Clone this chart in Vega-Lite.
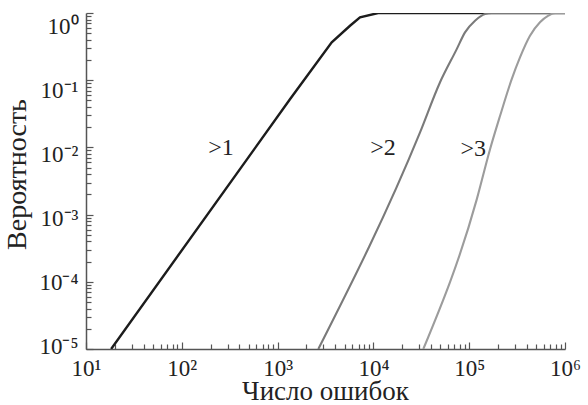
{
  "$schema": "https://vega.github.io/schema/vega-lite/v6.json",
  "autosize": {"type": "none"},
  "padding": {"left": 86, "top": 13, "right": 23, "bottom": 56},
  "width": 479,
  "height": 336,
  "background": "white",
  "config": {
    "font": "Liberation Serif",
    "view": {"stroke": null}
  },
  "datasets": {
    "curves": [
      {"series": ">1", "n": 18.3, "p": 0.00001},
      {"series": ">1", "n": 1346, "p": 0.052},
      {"series": ">1", "n": 3673, "p": 0.365},
      {"series": ">1", "n": 5700, "p": 0.646},
      {"series": ">1", "n": 7250, "p": 0.86},
      {"series": ">1", "n": 11200, "p": 1},
      {"series": ">1", "n": 1000000, "p": 1},
      {"series": ">2", "n": 2662, "p": 0.00001},
      {"series": ">2", "n": 30600, "p": 0.0166},
      {"series": ">2", "n": 49500, "p": 0.0925},
      {"series": ">2", "n": 74100, "p": 0.29},
      {"series": ">2", "n": 90400, "p": 0.515},
      {"series": ">2", "n": 115000, "p": 0.767},
      {"series": ">2", "n": 146300, "p": 0.966},
      {"series": ">2", "n": 171800, "p": 1},
      {"series": ">2", "n": 1000000, "p": 1},
      {"series": ">3", "n": 33200, "p": 0.00001},
      {"series": ">3", "n": 119700, "p": 0.00167},
      {"series": ">3", "n": 164800, "p": 0.00933},
      {"series": ">3", "n": 209700, "p": 0.0293},
      {"series": ">3", "n": 277900, "p": 0.1035},
      {"series": ">3", "n": 339000, "p": 0.218},
      {"series": ">3", "n": 431000, "p": 0.458},
      {"series": ">3", "n": 548000, "p": 0.727},
      {"series": ">3", "n": 670000, "p": 0.912},
      {"series": ">3", "n": 787000, "p": 1},
      {"series": ">3", "n": 1000000, "p": 1}
    ],
    "labels": [
      {"text": ">1", "n": 256, "p": 0.0098},
      {"text": ">2", "n": 12600, "p": 0.0098},
      {"text": ">3", "n": 110000, "p": 0.0095}
    ]
  },
  "encoding": {
    "x": {
      "field": "n", "type": "quantitative",
      "scale": {"type": "log", "domain": [10, 1000000], "nice": false},
      "axis": {
        "title": "Число ошибок",
        "titleFontSize": 27, "titleFontWeight": "normal", "titleColor": "#222",
        "titleX": 239, "titleY": 50, "titleBaseline": "alphabetic", "titleAlign": "center",
        "values": [10,20,30,40,50,60,70,80,90,100,200,300,400,500,600,700,800,900,1000,2000,3000,4000,5000,6000,7000,8000,9000,10000,20000,30000,40000,50000,60000,70000,80000,90000,100000,200000,300000,400000,500000,600000,700000,800000,900000,1000000],
        "labelExpr": "abs(log(datum.value)/LN10 - round(log(datum.value)/LN10)) < 0.001 ? '10' + replace(replace(replace(replace(replace(replace(replace(replace('' + round(log(datum.value)/LN10), '-', '⁻'), '0', '⁰'), '1', '¹'), '2', '²'), '3', '³'), '4', '⁴'), '5', '⁵'), '6', '⁶') : ''",
        "labelFontSize": 23, "labelColor": "#222", "labelPadding": 15,
        "labelBaseline": "top", "labelFlush": false, "labelOverlap": false,
        "grid": false,
        "domainColor": "#555", "domainWidth": 1.5,
        "tickColor": "#555", "tickWidth": 1.2,
        "tickSize": {"expr": "abs(log(datum.value)/LN10 - round(log(datum.value)/LN10)) < 0.001 ? -7 : -5"}
      }
    },
    "y": {
      "field": "p", "type": "quantitative",
      "scale": {"type": "log", "domain": [0.00001, 1], "nice": false},
      "axis": {
        "title": "Вероятность",
        "titleFontSize": 28, "titleFontWeight": "normal", "titleColor": "#222",
        "titleX": -61, "titleY": 161, "titleBaseline": "alphabetic", "titleAlign": "center", "titleAngle": -90,
        "values": [0.00001,0.00002,0.00003,0.00004,0.00005,0.00006,0.00007,0.00008,0.00009,0.0001,0.0002,0.0003,0.0004,0.0005,0.0006,0.0007,0.0008,0.0009,0.001,0.002,0.003,0.004,0.005,0.006,0.007,0.008,0.009,0.01,0.02,0.03,0.04,0.05,0.06,0.07,0.08,0.09,0.1,0.2,0.3,0.4,0.5,0.6,0.7,0.8,0.9,1],
        "labelExpr": "abs(log(datum.value)/LN10 - round(log(datum.value)/LN10)) < 0.001 ? '10' + replace(replace(replace(replace(replace(replace(replace('' + round(log(datum.value)/LN10), '-', '⁻'), '0', '⁰'), '1', '¹'), '2', '²'), '3', '³'), '4', '⁴'), '5', '⁵') : ''",
        "labelFontSize": 23, "labelColor": "#222", "labelPadding": 15,
        "labelBaseline": "middle", "labelFlush": false, "labelOverlap": false,
        "labelOffset": {"expr": "13 + 3.2*log(datum.value)/LN10"},
        "grid": false,
        "domainColor": "#555", "domainWidth": 1.5,
        "tickColor": "#555", "tickWidth": 1.2,
        "tickSize": {"expr": "abs(log(datum.value)/LN10 - round(log(datum.value)/LN10)) < 0.001 ? -7 : -5"}
      }
    }
  },
  "layer": [
    {
      "data": {"name": "curves"},
      "transform": [{"filter": "datum.series === '>1'"}],
      "mark": {"type": "line", "interpolate": "linear", "clip": true, "color": "#1c1c1c", "strokeWidth": 2.4}
    },
    {
      "data": {"name": "curves"},
      "transform": [{"filter": "datum.series === '>2'"}],
      "mark": {"type": "line", "interpolate": "monotone", "clip": true, "color": "#7a7a7a", "strokeWidth": 2.1}
    },
    {
      "data": {"name": "curves"},
      "transform": [{"filter": "datum.series === '>3'"}],
      "mark": {"type": "line", "interpolate": "monotone", "clip": true, "color": "#9c9c9c", "strokeWidth": 2.1}
    },
    {
      "data": {"name": "labels"},
      "mark": {"type": "text", "fontSize": 24, "color": "#222", "baseline": "middle", "align": "center"},
      "encoding": {
        "text": {"field": "text"}
      }
    }
  ]
}
